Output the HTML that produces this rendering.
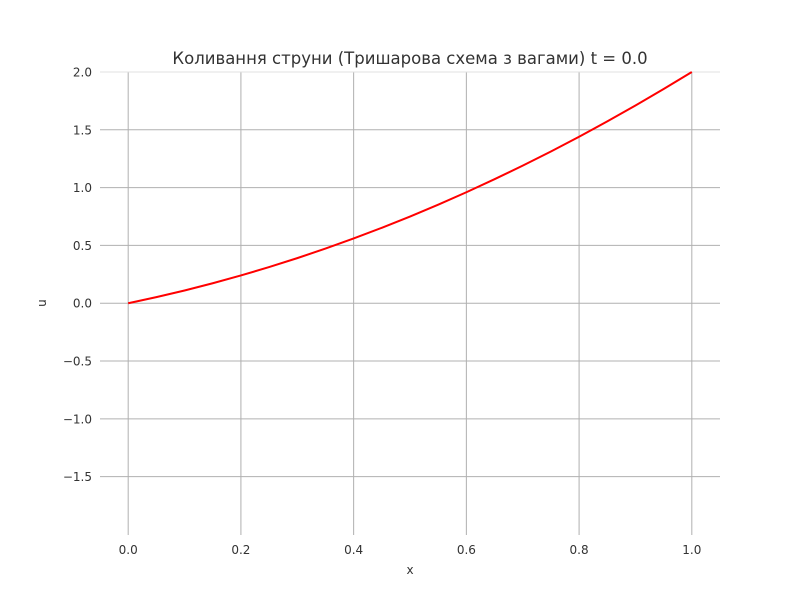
<!DOCTYPE html>
<html><head><meta charset="utf-8"><style>
body{margin:0;background:#fff}
svg text{font-family:"DejaVu Sans","Liberation Sans",sans-serif;fill:#333}
</style></head><body>
<svg id="chart" width="800" height="600" xmlns="http://www.w3.org/2000/svg">
<rect x="0" y="0" width="800" height="600" fill="#fff"/>
<text x="410" y="64" text-anchor="middle" font-size="16.5">Коливання струни (Тришарова схема з вагами) t = 0.0</text>
<g id="grid"></g>
<g id="ticks"></g>
<g id="series"></g>
<text x="410" y="574" text-anchor="middle" font-size="12">x</text>
<text x="46" y="303" text-anchor="middle" font-size="12" transform="rotate(-90 46 303)">u</text>
</svg>
<script>
const xTicks=[0,0.2,0.4,0.6,0.8,1.0];
const xTickLabels=["0.0","0.2","0.4","0.6","0.8","1.0"];
const yTicks=[-1.5,-1.0,-0.5,0,0.5,1.0,1.5,2.0];
const yTickLabels=["\u22121.5","\u22121.0","\u22120.5","0.0","0.5","1.0","1.5","2.0"];
const xs=[0,0.05,0.1,0.15,0.2,0.25,0.3,0.35,0.4,0.45,0.5,0.55,0.6,0.65,0.7,0.75,0.8,0.85,0.9,0.95,1.0];
const us=[0,0.0525,0.11,0.1725,0.24,0.3125,0.39,0.4725,0.56,0.6525,0.75,0.8525,0.96,1.0725,1.19,1.3125,1.44,1.5725,1.71,1.8525,2.0];
const X0=100,X1=720,Y0=72,Y1=535;
const xmin=-0.05,xmax=1.05,ymax=2.0,ymin=-2.005;
const sx=v=>X0+(v-xmin)/(xmax-xmin)*(X1-X0);
const sy=v=>Y0+(ymax-v)/(ymax-ymin)*(Y1-Y0);
const NS="http://www.w3.org/2000/svg";
const grid=document.getElementById('grid'),ticks=document.getElementById('ticks'),series=document.getElementById('series');
function mk(t,a,p){const e=document.createElementNS(NS,t);for(const k in a)e.setAttribute(k,a[k]);p.appendChild(e);return e;}
xTicks.forEach((v,i)=>{
 const l=mk('line',{x1:sx(v),x2:sx(v),y1:Y0,y2:Y1,stroke:'#b0b0b0','stroke-width':1},grid);
 
 
 const t=mk('text',{x:sx(v),y:Y1+19,'text-anchor':'middle','font-size':12},ticks);
 t.textContent=xTickLabels[i];
 
 
});
yTicks.forEach((v,i)=>{
 const l=mk('line',{x1:X0,x2:X1,y1:sy(v),y2:sy(v),stroke:v===2.0?'#e0e0e0':'#b0b0b0','stroke-width':1},grid);
 
 
 const t=mk('text',{x:X0-8,y:sy(v)+4.5,'text-anchor':'end','font-size':12},ticks);
 t.textContent=yTickLabels[i];
 
 
});
const path=mk('path',{d:xs.map((x,i)=>(i?'L':'M')+sx(x).toFixed(2)+','+sy(us[i]).toFixed(2)).join(''),fill:'none',stroke:'#ff0000','stroke-width':2},series);


</script>
</body></html>
